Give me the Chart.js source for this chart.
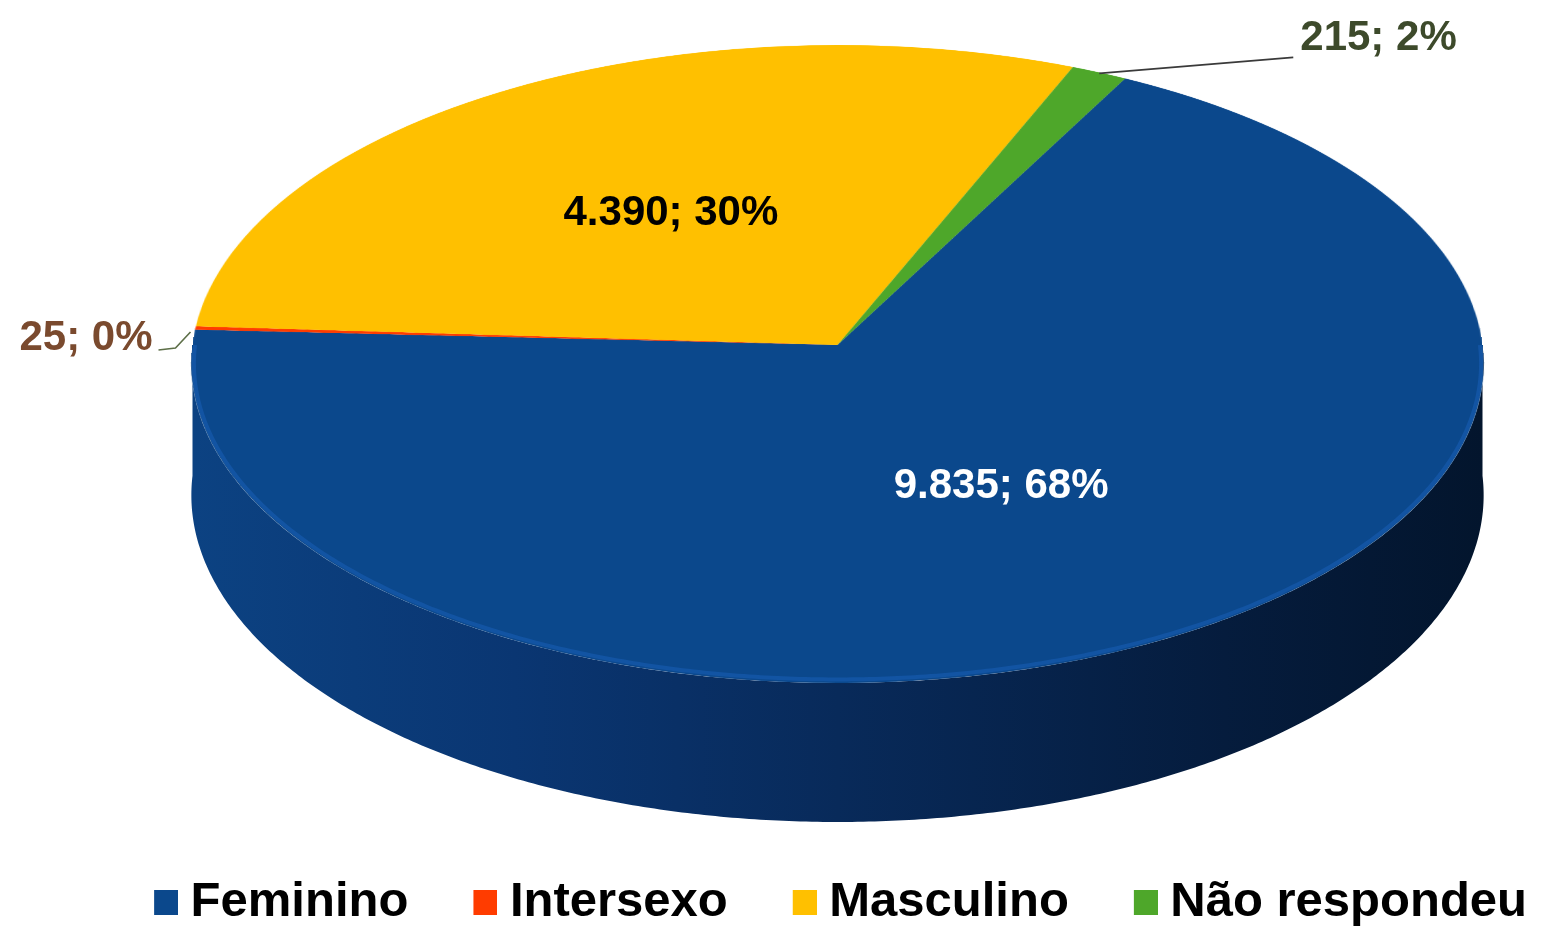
<!DOCTYPE html>
<html>
<head>
<meta charset="utf-8">
<script src="https://cdn.jsdelivr.net/npm/chart.js@4.4.0/dist/chart.umd.min.js"></script>
<style>
html,body{margin:0;padding:0;background:#ffffff;}
#wrap{width:1549px;height:928px;position:relative;}
</style>
</head>
<body>
<div id="wrap"><canvas id="c" width="1549" height="928"></canvas></div>
<script>
// ---- data ----
const categories = ['Feminino', 'Intersexo', 'Masculino', 'Não respondeu'];
const values = [9835, 25, 4390, 215];
const percentLabels = ['68%', '0%', '30%', '2%'];

// ---- styles ----
const topColors = ['#0b488c', '#ff3c00', '#ffc000', '#4ea72a'];
const sideStops = [
  [[0, '#0c4282'], [0.25, '#0a3672'], [0.5, '#082a5a'], [0.8, '#051c3d'], [1, '#03152d']],
  [[0, '#a02600'], [1, '#6a1900']],
  [[0, '#c79600'], [1, '#8a6800']],
  [[0, '#37761d'], [1, '#244e13']]
];
const labelColors = ['#ffffff', '#7a4a2e', '#000000', '#3d4a2b'];
const FONT = '"Liberation Sans", Arial, sans-serif';

// perspective view of the pie plane (layout only)
const P = { cx: 837.5, S: 645, a: 297.3, b: 345, e: -0.0596, D: 130.7 };
function proj(u, v) {
  const w = 1 + P.e * v;
  return { x: P.cx + u * P.S / w, y: (P.a * v + P.b) / w, d: P.D / w };
}
function vOfY(y) { return (y - P.b) / (P.a - y * P.e); }

function fmt(n) {
  return String(n).replace(/\B(?=(\d{3})+(?!\d))/g, '.');
}

function frontSegments(a, b) {
  const segs = [];
  const TAU = Math.PI * 2;
  for (let k = -2; k <= 2; k++) {
    const lo = Math.max(a, k * TAU), hi = Math.min(b, k * TAU + Math.PI);
    if (hi > lo) segs.push([lo, hi]);
  }
  return segs;
}

function makeMarker(color) {
  const c = document.createElement('canvas');
  c.width = 36; c.height = 25;
  const g = c.getContext('2d');
  g.fillStyle = color;
  g.fillRect(12, 0, 24, 25);
  return c;
}

const RS = 800;
const off = document.createElement('canvas');
off.width = RS * 2; off.height = RS * 2;

const pie3d = {
  id: 'pie3d',
  beforeDatasetDraw(chart, args) {
    const ctx = chart.ctx;
    const arcs = args.meta.data;
    // sides (extrusion) on the visible front half
    arcs.forEach((el, i) => {
      frontSegments(el.startAngle, el.endAngle).forEach(([a1, a2]) => {
        const n = Math.max(2, Math.ceil((a2 - a1) * 120));
        ctx.save();
        const grad = ctx.createLinearGradient(P.cx - P.S, 0, P.cx + P.S, 0);
        sideStops[i].forEach(([p, c]) => grad.addColorStop(p, c));
        ctx.beginPath();
        for (let k = 0; k <= n; k++) {
          const t = a1 + (a2 - a1) * k / n;
          const p = proj(Math.cos(t), Math.sin(t));
          k === 0 ? ctx.moveTo(p.x, p.y) : ctx.lineTo(p.x, p.y);
        }
        for (let k = n; k >= 0; k--) {
          const t = a1 + (a2 - a1) * k / n;
          const p = proj(Math.cos(t), Math.sin(t));
          ctx.lineTo(p.x, p.y + p.d);
        }
        ctx.closePath();
        ctx.fillStyle = grad;
        ctx.fill();
        ctx.restore();
      });
    });
    // top face: library arcs drawn flat, then projected row by row
    const g = off.getContext('2d');
    g.setTransform(1, 0, 0, 1, 0, 0);
    g.clearRect(0, 0, off.width, off.height);
    arcs.forEach((el) => {
      const k = RS / el.outerRadius;
      g.setTransform(k, 0, 0, k, RS - el.x * k, RS - el.y * k);
      el.draw(g, chart.chartArea);
    });
    g.setTransform(1, 0, 0, 1, 0, 0);
    ctx.save();
    ctx.imageSmoothingEnabled = true;
    ctx.imageSmoothingQuality = 'high';
    const yTop = proj(0, -1).y, yBot = proj(0, 1).y;
    for (let y = Math.floor(yTop); y < Math.ceil(yBot); y++) {
      const v0 = Math.max(-1, vOfY(y)), v1 = Math.min(1, vOfY(y + 1));
      if (v1 <= v0) continue;
      const vm = (v0 + v1) / 2;
      const w = P.S / (1 + P.e * vm);
      const sy = RS + v0 * RS, sh = Math.max(0.5, (v1 - v0) * RS);
      ctx.drawImage(off, 0, sy, RS * 2, sh, P.cx - w, y, 2 * w, 1);
    }
    ctx.restore();
    // soft light rim on the front edge of the top face
    arcs.forEach((el, i) => {
      frontSegments(el.startAngle, el.endAngle).forEach(([a1, a2]) => {
        const n = Math.max(2, Math.ceil((a2 - a1) * 120));
        ctx.save();
        ctx.beginPath();
        for (let k = 0; k <= n; k++) {
          const t = a1 + (a2 - a1) * k / n;
          const p = proj(0.996 * Math.cos(t), 0.99 * Math.sin(t));
          k === 0 ? ctx.moveTo(p.x, p.y) : ctx.lineTo(p.x, p.y);
        }
        ctx.strokeStyle = i === 0 ? 'rgba(25,95,185,0.5)' : 'rgba(255,255,255,0.2)';
        ctx.lineWidth = 4;
        ctx.stroke();
        ctx.restore();
      });
    });
    return false;
  },
  afterDatasetsDraw(chart) {
    const ctx = chart.ctx;
    const arcs = chart.getDatasetMeta(0).data;
    const total = values.reduce((a, b) => a + b, 0);
    ctx.save();
    ctx.font = 'bold 42px ' + FONT;
    ctx.textBaseline = 'middle';
    arcs.forEach((el, i) => {
      const mid = (el.startAngle + el.endAngle) / 2;
      const text = fmt(values[i]) + '; ' + percentLabels[i];
      const share = values[i] / total;
      if (share > 0.1) {
        const p = proj(0.5 * Math.cos(mid), 0.5 * Math.sin(mid));
        ctx.fillStyle = labelColors[i];
        ctx.textAlign = 'center';
        ctx.fillText(text, p.x, p.y);
      } else {
        const p = proj(Math.cos(mid), Math.sin(mid));
        ctx.beginPath();
        if (Math.cos(mid) >= 0) {
          ctx.moveTo(p.x, p.y + 1);
          ctx.lineTo(p.x + 194, p.y - 15);
          ctx.strokeStyle = '#3a3a3a';
          ctx.lineWidth = 2;
          ctx.stroke();
          ctx.fillStyle = labelColors[i];
          ctx.textAlign = 'left';
          ctx.fillText(text, p.x + 201, p.y - 34);
        } else {
          ctx.moveTo(p.x - 5, p.y + 4);
          ctx.lineTo(p.x - 20, p.y + 20);
          ctx.lineTo(p.x - 37, p.y + 22);
          ctx.strokeStyle = '#5d6f48';
          ctx.lineWidth = 1.6;
          ctx.stroke();
          ctx.fillStyle = labelColors[i];
          ctx.textAlign = 'right';
          ctx.fillText(text, p.x - 43, p.y + 10);
        }
      }
    });
    ctx.restore();
  }
};

new Chart(document.getElementById('c'), {
  type: 'pie',
  data: {
    labels: categories,
    datasets: [{
      data: values,
      backgroundColor: topColors,
      borderWidth: 0
    }]
  },
  options: {
    responsive: false,
    animation: false,
    events: [],
    rotation: 28,
    layout: { padding: { left: 0, right: -43, top: 0, bottom: -9 } },
    plugins: {
      tooltip: { enabled: false },
      legend: {
        position: 'bottom',
        align: 'end',
        labels: {
          color: '#000000',
          font: { family: FONT, size: 49, weight: 'bold' },
          usePointStyle: true,
          pointStyleWidth: 12,
          boxHeight: 25,
          padding: 65,
          generateLabels(chart) {
            return categories.map((label, i) => ({
              text: label,
              fillStyle: topColors[i],
              strokeStyle: topColors[i],
              lineWidth: 0,
              fontColor: '#000000',
              pointStyle: makeMarker(topColors[i]),
              hidden: false,
              index: i
            }));
          }
        }
      }
    }
  },
  plugins: [pie3d]
});
</script>
</body>
</html>
